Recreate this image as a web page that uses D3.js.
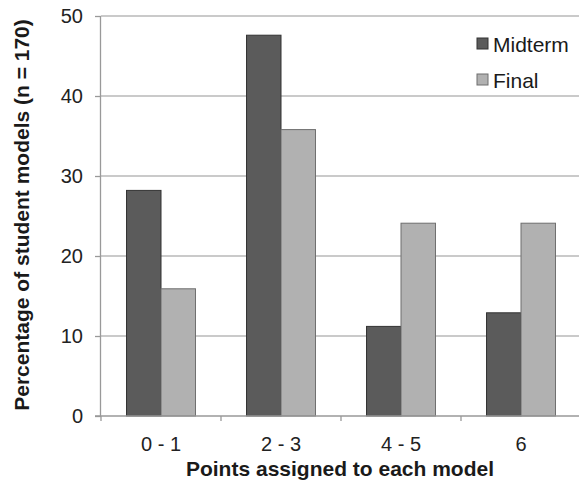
<!DOCTYPE html>
<html><head><meta charset="utf-8">
<script src="https://cdn.jsdelivr.net/npm/d3@7"></script>
<style>body{margin:0;background:#fff}svg{display:block}text{font-family:"Liberation Sans",Arial,sans-serif}</style>
</head><body><svg id="c" width="579" height="485"></svg>
<script>
const categories = ["0 - 1", "2 - 3", "4 - 5", "6"];
const seriesNames = ["Midterm", "Final"];
const midterm = [28.2, 47.6, 11.2, 12.9];
const final = [15.9, 35.8, 24.1, 24.1];
const yTicks = [0, 10, 20, 30, 40, 50];

const svg = d3.select("#c");
const m = {left: 101, right: -2, top: 16, bottom: 69};
const W = 579, H = 485;
const x = d3.scaleBand().domain(categories).range([m.left, W - m.right]).paddingInner(0).paddingOuter(0);
const xs = d3.scaleBand().domain(seriesNames).range([0, x.bandwidth()]).paddingInner(0).paddingOuter(0.74);
const y = d3.scaleLinear().domain([0, 50]).range([H - m.bottom, m.top]);

const fills = {Midterm: "#5b5b5b", Final: "#b1b1b1"};
const strokes = {Midterm: "#333", Final: "#6e6e6e"};
const font = "Liberation Sans, Arial, sans-serif";

// gridlines
svg.append("g").selectAll("line").data(yTicks.filter(d => d > 0)).join("line")
  .attr("x1", m.left).attr("x2", W).attr("y1", d => y(d)).attr("y2", d => y(d))
  .attr("stroke", "#b9b9b9").attr("stroke-width", 1.3);

// bars
const data = categories.map((c, i) => ({c, vals: [{s: "Midterm", v: midterm[i]}, {s: "Final", v: final[i]}]}));
svg.append("g").selectAll("g").data(data).join("g")
  .attr("transform", d => `translate(${x(d.c)},0)`)
  .selectAll("rect").data(d => d.vals).join("rect")
  .attr("x", d => xs(d.s)).attr("width", xs.bandwidth())
  .attr("y", d => y(d.v)).attr("height", d => y(0) - y(d.v))
  .attr("fill", d => fills[d.s]).attr("stroke", d => strokes[d.s]).attr("stroke-width", 1);

// y axis
const ya = svg.append("g").attr("transform", `translate(${m.left},0)`)
  .call(d3.axisLeft(y).tickValues(yTicks).tickSize(6).tickPadding(12).tickFormat(d3.format("d")));
ya.select(".domain").attr("stroke", "#999").attr("stroke-width", 1.3).attr("d", `M-0.5,${y(0)}V${y(50)}`);
ya.selectAll(".tick line").attr("stroke", "#999").attr("stroke-width", 1.3);
ya.selectAll(".tick text").attr("font-size", 20).attr("fill", "#222").attr("font-family", font);

// x axis
const xa = svg.append("g").attr("transform", `translate(0,${y(0)})`)
  .call(d3.axisBottom(x).tickSize(0).tickPadding(21));
xa.select(".domain").remove();
xa.selectAll(".tick text").attr("font-size", 20).attr("fill", "#222").attr("font-family", font)
  .attr("y", 35).attr("dy", null);
svg.append("line").attr("x1", m.left - 6).attr("x2", W).attr("y1", y(0)).attr("y2", y(0)).attr("stroke", "#999").attr("stroke-width", 1.3);
svg.append("g").selectAll("line").data(categories).join("line")
  .attr("x1", d => x(d)).attr("x2", d => x(d)).attr("y1", y(0)).attr("y2", y(0) + 5)
  .attr("stroke", "#999").attr("stroke-width", 1.3);

// axis titles
svg.append("text").attr("x", 340).attr("y", 476).attr("text-anchor", "middle")
  .attr("font-size", 21).attr("font-weight", "bold").attr("fill", "#1a1a1a").text("Points assigned to each model");
svg.append("text").attr("transform", `translate(29,215) rotate(-90)`).attr("text-anchor", "middle")
  .attr("font-size", 21).attr("font-weight", "bold").attr("fill", "#1a1a1a").text("Percentage of student models (n = 170)");

// legend
const lg = svg.append("g").selectAll("g").data(seriesNames).join("g")
  .attr("transform", (d, i) => `translate(477,${38 + i * 36})`);
lg.append("rect").attr("width", 11).attr("height", 11)
  .attr("fill", d => fills[d]).attr("stroke", d => strokes[d]).attr("stroke-width", 1);
lg.append("text").attr("x", 16).attr("y", 14).attr("font-size", 21).attr("fill", "#1a1a1a").text(d => d);
</script></body></html>
